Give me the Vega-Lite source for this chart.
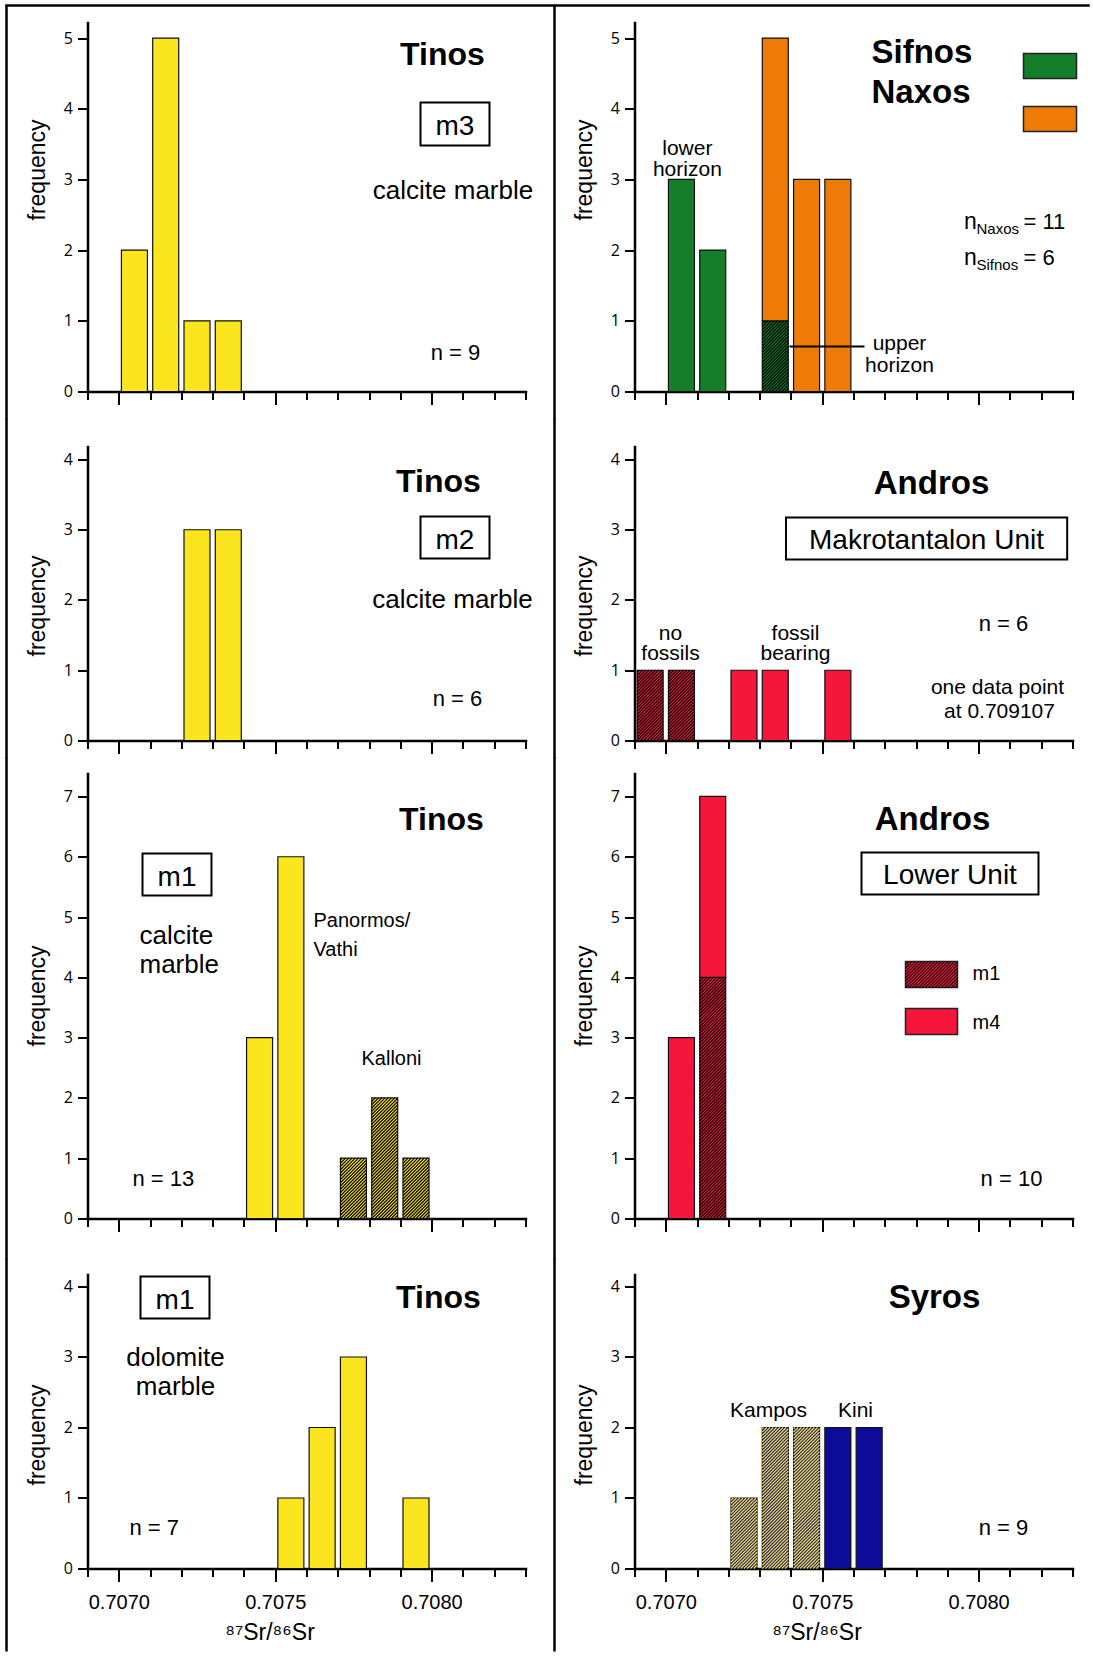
{
"$schema": "https://vega.github.io/schema/vega-lite/v6.json",
"padding": {"left": 4.5, "top": 3.5, "right": 0, "bottom": 0},
"autosize": {"type": "pad"},
"background": "white",
"config": {
  "view": {"stroke": null},
  "font": "Liberation Sans",
  "text": {"font": "Liberation Sans", "fill": "#000", "baseline": "alphabetic"},
  "axis": {"domainColor": "#000", "domainWidth": 2.5, "domainCap": "square", "tickColor": "#000", "tickWidth": 2, "grid": false, "labelColor": "#000", "titleColor": "#000", "titleFontWeight": "normal", "titleFont": "Liberation Sans", "zindex": 1, "labelFlush": false, "labelOverlap": false, "tickCount": 30},
  "axisY": {"labelFont": "Open Sans", "labelFontSize": 16, "tickSize": 10, "labelPadding": 5, "titleFontSize": 23, "titlePadding": 14, "format": "d"},
  "axisX": {"labelFont": "Liberation Sans", "labelFontSize": 20, "labelPadding": 11}
},
"spacing": -5,
"vconcat": [
 {"spacing": 109, "bounds": "flush", "hconcat": [
  {"width": 438, "height": 369,
   "data": {"values": [
     {"sr": 0.707, "sr_end": 0.7071, "n": 2, "grp": "Tinos"},
     {"sr": 0.7071, "sr_end": 0.7072, "n": 5, "grp": "Tinos"},
     {"sr": 0.7072, "sr_end": 0.7073, "n": 1, "grp": "Tinos"},
     {"sr": 0.7073, "sr_end": 0.7074, "n": 1, "grp": "Tinos"}]},
   "layer": [
    {"mark": {"type": "rect", "xOffset": 2.64, "x2Offset": -2.64, "stroke": "#111", "strokeWidth": 1.2},
     "encoding": {
      "x": {"field": "sr", "type": "quantitative", "scale": {"domain": [0.7069, 0.7083], "nice": false, "zero": false}, "axis": {"values": [0.7069,0.707,0.7071,0.7072,0.7073,0.7074,0.7075,0.7076,0.7077,0.7078,0.7079,0.708,0.7081,0.7082,0.7083], "tickCount": 30, "labels": false, "title": null, "tickSize": {"condition": {"test": "abs(datum.value*2000-round(datum.value*2000))<0.01", "value": 13}, "value": 8}}},
      "x2": {"field": "sr_end"},
      "y": {"field": "n", "type": "quantitative", "scale": {"domain": [0, 5.22], "nice": false}, "axis": {"values": [0,1,2,3,4,5], "title": "frequency", "titleY": 147}},
      "y2": {"datum": 0},
      "fill": {"field": "grp", "type": "nominal", "scale": {"domain": ["Tinos","Sifnos","Naxos","Andros","Syros"], "range": ["#FBE51F","#147E2B","#EE7B07","#F5163B","#0C0C98"]}, "legend": null}}},
    {"data": {"values": [{}]}, "mark": {"type": "rule", "stroke": "#000", "strokeWidth": 2.5}, "encoding": {"x": {"datum": 0.7066411, "type": "quantitative"}, "y": {"datum": 5.4605, "type": "quantitative"}, "y2": {"datum": -0.3961}}},
    {"data": {"values": [{}]}, "mark": {"type": "rule", "stroke": "#000", "strokeWidth": 2.5}, "encoding": {"x": {"datum": 0.7083927, "type": "quantitative"}, "y": {"datum": 5.4605, "type": "quantitative"}, "y2": {"datum": -0.3961}}},
    {"data": {"values": [{}]}, "mark": {"type": "rule", "stroke": "#000", "strokeWidth": 2.5, "strokeCap": "square"}, "encoding": {"x": {"datum": 0.7066411, "type": "quantitative"}, "x2": {"datum": 0.7100995}, "y": {"datum": 5.4605, "type": "quantitative"}}},
    {"data": {"values": [{}]}, "mark": {"type": "text", "text": "Tinos", "fontSize": 32, "fontWeight": "bold", "align": "center"}, "encoding": {"x": {"datum": 0.7080347, "type": "quantitative"}, "y": {"datum": 4.625, "type": "quantitative"}}},
    {"data": {"values": [{}]}, "mark": {"type": "rect", "fill": "#fff", "stroke": "#000", "strokeWidth": 2}, "encoding": {"x": {"datum": 0.7079644, "type": "quantitative"}, "x2": {"datum": 0.7081849}, "y": {"datum": 3.479, "type": "quantitative"}, "y2": {"datum": 4.088}}},
    {"data": {"values": [{}]}, "mark": {"type": "text", "text": "m3", "fontSize": 28, "align": "center"}, "encoding": {"x": {"datum": 0.7080746, "type": "quantitative"}, "y": {"datum": 3.635, "type": "quantitative"}}},
    {"data": {"values": [{}]}, "mark": {"type": "text", "text": "calcite marble", "fontSize": 26, "align": "center"}, "encoding": {"x": {"datum": 0.7080683, "type": "quantitative"}, "y": {"datum": 2.73, "type": "quantitative"}}},
    {"data": {"values": [{}]}, "mark": {"type": "text", "text": "n = 9", "fontSize": 22, "align": "center"}, "encoding": {"x": {"datum": 0.7080762, "type": "quantitative"}, "y": {"datum": 0.4526, "type": "quantitative"}}}
   ]},
  {"width": 438, "height": 369,
   "data": {"values": [
     {"sr": 0.707, "sr_end": 0.7071, "n": 3, "grp": "Sifnos", "horizon": "lower"},
     {"sr": 0.7071, "sr_end": 0.7072, "n": 2, "grp": "Sifnos", "horizon": "lower"},
     {"sr": 0.7073, "sr_end": 0.7074, "n": 1, "grp": "Sifnos", "horizon": "upper"},
     {"sr": 0.7073, "sr_end": 0.7074, "n": 4, "grp": "Naxos", "horizon": ""},
     {"sr": 0.7074, "sr_end": 0.7075, "n": 3, "grp": "Naxos", "horizon": ""},
     {"sr": 0.7075, "sr_end": 0.7076, "n": 3, "grp": "Naxos", "horizon": ""}]},
   "layer": [
    {"transform": [{"stack": "n", "groupby": ["sr"], "sort": [{"field": "grp", "order": "descending"}], "as": ["lo", "hi"]}],
     "mark": {"type": "rect", "xOffset": 2.64, "x2Offset": -2.64, "stroke": "#111", "strokeWidth": 1.2},
     "encoding": {
      "x": {"field": "sr", "type": "quantitative", "scale": {"domain": [0.7069, 0.7083], "nice": false, "zero": false}, "axis": {"values": [0.7069,0.707,0.7071,0.7072,0.7073,0.7074,0.7075,0.7076,0.7077,0.7078,0.7079,0.708,0.7081,0.7082,0.7083], "tickCount": 30, "labels": false, "title": null, "tickSize": {"condition": {"test": "abs(datum.value*2000-round(datum.value*2000))<0.01", "value": 13}, "value": 8}}},
      "x2": {"field": "sr_end"},
      "y": {"field": "hi", "type": "quantitative", "scale": {"domain": [0, 5.22], "nice": false}, "axis": {"values": [0,1,2,3,4,5], "title": "frequency", "titleY": 147}},
      "y2": {"field": "lo"},
      "fill": {"field": "grp", "type": "nominal", "scale": {"domain": ["Tinos","Sifnos","Naxos","Andros","Syros"], "range": ["#FBE51F","#147E2B","#EE7B07","#F5163B","#0C0C98"]}, "legend": null}}},
    {"transform": [{"filter": "datum.horizon == 'upper'"}],
     "mark": {"type": "point", "shape": "M22.75 0l3.25 -3.25M19.5 0l6.5 -6.5M16.25 0l9.75 -9.75M13 0l13 -13M9.75 0l16.25 -16.25M6.5 0l19.5 -19.5M3.25 0l22.75 -22.75M0 0l26 -26M0 -3.25l26 -26M0 -6.5l26 -26M0 -9.75l26 -26M0 -13l26 -26M0 -16.25l26 -26M0 -19.5l26 -26M0 -22.75l26 -26M0 -26l26 -26M0 -29.25l26 -26M0 -32.5l26 -26M0 -35.75l26 -26M0 -39l26 -26M0 -42.25l26 -26M0 -45.5l25 -25M0 -48.75l21.75 -21.75M0 -52l18.5 -18.5M0 -55.25l15.25 -15.25M0 -58.5l12 -12M0 -61.75l8.75 -8.75M0 -65l5.5 -5.5M0 -68.25l2.25 -2.25", "size": 4, "filled": false, "stroke": "#000", "strokeWidth": 1.1, "opacity": 1, "xOffset": 2.64},
     "encoding": {"x": {"field": "sr", "type": "quantitative"}, "y": {"datum": 0, "type": "quantitative"}}},
    {"data": {"values": [{}]}, "mark": {"type": "text", "text": "Sifnos", "fontSize": 33, "fontWeight": "bold", "align": "left"}, "encoding": {"x": {"datum": 0.7076575, "type": "quantitative"}, "y": {"datum": 4.653, "type": "quantitative"}}},
    {"data": {"values": [{}]}, "mark": {"type": "text", "text": "Naxos", "fontSize": 33, "fontWeight": "bold", "align": "left"}, "encoding": {"x": {"datum": 0.7076575, "type": "quantitative"}, "y": {"datum": 4.088, "type": "quantitative"}}},
    {"data": {"values": [{}]}, "mark": {"type": "rect", "fill": "#147E2B", "stroke": "#222", "strokeWidth": 1.5}, "encoding": {"x": {"datum": 0.7081434, "type": "quantitative"}, "x2": {"datum": 0.7083128}, "y": {"datum": 4.427, "type": "quantitative"}, "y2": {"datum": 4.781}}},
    {"data": {"values": [{}]}, "mark": {"type": "rect", "fill": "#EE7B07", "stroke": "#222", "strokeWidth": 1.5}, "encoding": {"x": {"datum": 0.7081434, "type": "quantitative"}, "x2": {"datum": 0.7083128}, "y": {"datum": 3.678, "type": "quantitative"}, "y2": {"datum": 4.031}}},
    {"data": {"values": [{}]}, "mark": {"type": "text", "text": "lower", "fontSize": 21, "align": "center"}, "encoding": {"x": {"datum": 0.707069, "type": "quantitative"}, "y": {"datum": 3.352, "type": "quantitative"}}},
    {"data": {"values": [{}]}, "mark": {"type": "text", "text": "horizon", "fontSize": 21, "align": "center"}, "encoding": {"x": {"datum": 0.707069, "type": "quantitative"}, "y": {"datum": 3.055, "type": "quantitative"}}},
    {"data": {"values": [{}]}, "mark": {"type": "text", "text": "n", "fontSize": 23, "align": "left"}, "encoding": {"x": {"datum": 0.7079532, "type": "quantitative"}, "y": {"datum": 2.3055, "type": "quantitative"}}},
    {"data": {"values": [{}]}, "mark": {"type": "text", "text": "Naxos", "fontSize": 15, "align": "left"}, "encoding": {"x": {"datum": 0.7079931, "type": "quantitative"}, "y": {"datum": 2.2348, "type": "quantitative"}}},
    {"data": {"values": [{}]}, "mark": {"type": "text", "text": "= 11", "fontSize": 22, "align": "left"}, "encoding": {"x": {"datum": 0.7081434, "type": "quantitative"}, "y": {"datum": 2.3055, "type": "quantitative"}}},
    {"data": {"values": [{}]}, "mark": {"type": "text", "text": "n", "fontSize": 23, "align": "left"}, "encoding": {"x": {"datum": 0.7079532, "type": "quantitative"}, "y": {"datum": 1.7963, "type": "quantitative"}}},
    {"data": {"values": [{}]}, "mark": {"type": "text", "text": "Sifnos", "fontSize": 15, "align": "left"}, "encoding": {"x": {"datum": 0.7079931, "type": "quantitative"}, "y": {"datum": 1.7256, "type": "quantitative"}}},
    {"data": {"values": [{}]}, "mark": {"type": "text", "text": "= 6", "fontSize": 22, "align": "left"}, "encoding": {"x": {"datum": 0.7081434, "type": "quantitative"}, "y": {"datum": 1.7963, "type": "quantitative"}}},
    {"data": {"values": [{}]}, "mark": {"type": "rule", "stroke": "#000", "strokeWidth": 2}, "encoding": {"x": {"datum": 0.7073954, "type": "quantitative"}, "x2": {"datum": 0.7076351}, "y": {"datum": 0.6365, "type": "quantitative"}}},
    {"data": {"values": [{}]}, "mark": {"type": "text", "text": "upper", "fontSize": 21, "align": "center"}, "encoding": {"x": {"datum": 0.707747, "type": "quantitative"}, "y": {"datum": 0.594, "type": "quantitative"}}},
    {"data": {"values": [{}]}, "mark": {"type": "text", "text": "horizon", "fontSize": 21, "align": "center"}, "encoding": {"x": {"datum": 0.707747, "type": "quantitative"}, "y": {"datum": 0.2829, "type": "quantitative"}}}
   ]}
 ]},
 {"spacing": 109, "bounds": "flush", "hconcat": [
  {"width": 438, "height": 294,
   "data": {"values": [
     {"sr": 0.7072, "sr_end": 0.7073, "n": 3, "grp": "Tinos"},
     {"sr": 0.7073, "sr_end": 0.7074, "n": 3, "grp": "Tinos"}]},
   "layer": [
    {"mark": {"type": "rect", "xOffset": 2.64, "x2Offset": -2.64, "stroke": "#111", "strokeWidth": 1.2},
     "encoding": {
      "x": {"field": "sr", "type": "quantitative", "scale": {"domain": [0.7069, 0.7083], "nice": false, "zero": false}, "axis": {"values": [0.7069,0.707,0.7071,0.7072,0.7073,0.7074,0.7075,0.7076,0.7077,0.7078,0.7079,0.708,0.7081,0.7082,0.7083], "tickCount": 30, "labels": false, "title": null, "tickSize": {"condition": {"test": "abs(datum.value*2000-round(datum.value*2000))<0.01", "value": 13}, "value": 8}}},
      "x2": {"field": "sr_end"},
      "y": {"field": "n", "type": "quantitative", "scale": {"domain": [0, 4.185], "nice": false}, "axis": {"values": [0,1,2,3,4], "title": "frequency", "titleY": 159}},
      "y2": {"datum": 0},
      "fill": {"field": "grp", "type": "nominal", "scale": {"domain": ["Tinos","Sifnos","Naxos","Andros","Syros"], "range": ["#FBE51F","#147E2B","#EE7B07","#F5163B","#0C0C98"]}, "legend": null}}},
    {"data": {"values": [{}]}, "mark": {"type": "rule", "stroke": "#000", "strokeWidth": 2.5}, "encoding": {"x": {"datum": 0.7066411, "type": "quantitative"}, "y": {"datum": 4.5836, "type": "quantitative"}, "y2": {"datum": -0.2562}}},
    {"data": {"values": [{}]}, "mark": {"type": "rule", "stroke": "#000", "strokeWidth": 2.5}, "encoding": {"x": {"datum": 0.7083927, "type": "quantitative"}, "y": {"datum": 4.5836, "type": "quantitative"}, "y2": {"datum": -0.2562}}},
    {"data": {"values": [{}]}, "mark": {"type": "text", "text": "Tinos", "fontSize": 32, "fontWeight": "bold", "align": "center"}, "encoding": {"x": {"datum": 0.7080219, "type": "quantitative"}, "y": {"datum": 3.544, "type": "quantitative"}}},
    {"data": {"values": [{}]}, "mark": {"type": "rect", "fill": "#fff", "stroke": "#000", "strokeWidth": 2}, "encoding": {"x": {"datum": 0.7079644, "type": "quantitative"}, "x2": {"datum": 0.7081849}, "y": {"datum": 2.591, "type": "quantitative"}, "y2": {"datum": 3.189}}},
    {"data": {"values": [{}]}, "mark": {"type": "text", "text": "m2", "fontSize": 28, "align": "center"}, "encoding": {"x": {"datum": 0.7080746, "type": "quantitative"}, "y": {"datum": 2.733, "type": "quantitative"}}},
    {"data": {"values": [{}]}, "mark": {"type": "text", "text": "calcite marble", "fontSize": 26, "align": "center"}, "encoding": {"x": {"datum": 0.7080667, "type": "quantitative"}, "y": {"datum": 1.879, "type": "quantitative"}}},
    {"data": {"values": [{}]}, "mark": {"type": "text", "text": "n = 6", "fontSize": 22, "align": "center"}, "encoding": {"x": {"datum": 0.7080826, "type": "quantitative"}, "y": {"datum": 0.484, "type": "quantitative"}}}
   ]},
  {"width": 438, "height": 294,
   "data": {"values": [
     {"sr": 0.7069, "sr_end": 0.707, "n": 1, "grp": "Andros", "fossils": "no"},
     {"sr": 0.707, "sr_end": 0.7071, "n": 1, "grp": "Andros", "fossils": "no"},
     {"sr": 0.7072, "sr_end": 0.7073, "n": 1, "grp": "Andros", "fossils": "yes"},
     {"sr": 0.7073, "sr_end": 0.7074, "n": 1, "grp": "Andros", "fossils": "yes"},
     {"sr": 0.7075, "sr_end": 0.7076, "n": 1, "grp": "Andros", "fossils": "yes"}]},
   "layer": [
    {"mark": {"type": "rect", "xOffset": 2.64, "x2Offset": -2.64, "stroke": "#111", "strokeWidth": 1.2},
     "encoding": {
      "x": {"field": "sr", "type": "quantitative", "scale": {"domain": [0.7069, 0.7083], "nice": false, "zero": false}, "axis": {"values": [0.7069,0.707,0.7071,0.7072,0.7073,0.7074,0.7075,0.7076,0.7077,0.7078,0.7079,0.708,0.7081,0.7082,0.7083], "tickCount": 30, "labels": false, "title": null, "tickSize": {"condition": {"test": "abs(datum.value*2000-round(datum.value*2000))<0.01", "value": 13}, "value": 8}}},
      "x2": {"field": "sr_end"},
      "y": {"field": "n", "type": "quantitative", "scale": {"domain": [0, 4.185], "nice": false}, "axis": {"values": [0,1,2,3,4], "title": "frequency", "titleY": 159}},
      "y2": {"datum": 0},
      "fill": {"field": "grp", "type": "nominal", "scale": {"domain": ["Tinos","Sifnos","Naxos","Andros","Syros"], "range": ["#FBE51F","#147E2B","#EE7B07","#F5163B","#0C0C98"]}, "legend": null}}},
    {"transform": [{"filter": "datum.fossils == 'no'"}],
     "mark": {"type": "point", "shape": "M22.75 0l3.25 -3.25M19.5 0l6.5 -6.5M16.25 0l9.75 -9.75M13 0l13 -13M9.75 0l16.25 -16.25M6.5 0l19.5 -19.5M3.25 0l22.75 -22.75M0 0l26 -26M0 -3.25l26 -26M0 -6.5l26 -26M0 -9.75l26 -26M0 -13l26 -26M0 -16.25l26 -26M0 -19.5l26 -26M0 -22.75l26 -26M0 -26l26 -26M0 -29.25l26 -26M0 -32.5l26 -26M0 -35.75l26 -26M0 -39l26 -26M0 -42.25l26 -26M0 -45.5l25 -25M0 -48.75l21.75 -21.75M0 -52l18.5 -18.5M0 -55.25l15.25 -15.25M0 -58.5l12 -12M0 -61.75l8.75 -8.75M0 -65l5.5 -5.5M0 -68.25l2.25 -2.25", "size": 4, "filled": false, "stroke": "#000", "strokeWidth": 1.1, "opacity": 1, "xOffset": 2.64},
     "encoding": {"x": {"field": "sr", "type": "quantitative"}, "y": {"datum": 0, "type": "quantitative"}}},
    {"data": {"values": [{}]}, "mark": {"type": "text", "text": "Andros", "fontSize": 33, "fontWeight": "bold", "align": "center"}, "encoding": {"x": {"datum": 0.7078493, "type": "quantitative"}, "y": {"datum": 3.502, "type": "quantitative"}}},
    {"data": {"values": [{}]}, "mark": {"type": "rect", "fill": "#fff", "stroke": "#000", "strokeWidth": 2}, "encoding": {"x": {"datum": 0.7073842, "type": "quantitative"}, "x2": {"datum": 0.708283}, "y": {"datum": 2.577, "type": "quantitative"}, "y2": {"datum": 3.174}}},
    {"data": {"values": [{}]}, "mark": {"type": "text", "text": "Makrotantalon Unit", "fontSize": 28, "align": "center"}, "encoding": {"x": {"datum": 0.7078333, "type": "quantitative"}, "y": {"datum": 2.719, "type": "quantitative"}}},
    {"data": {"values": [{}]}, "mark": {"type": "text", "text": "n = 6", "fontSize": 22, "align": "center"}, "encoding": {"x": {"datum": 0.7080794, "type": "quantitative"}, "y": {"datum": 1.552, "type": "quantitative"}}},
    {"data": {"values": [{}]}, "mark": {"type": "text", "text": "no", "fontSize": 21, "align": "center"}, "encoding": {"x": {"datum": 0.7070151, "type": "quantitative"}, "y": {"datum": 1.4235, "type": "quantitative"}}},
    {"data": {"values": [{}]}, "mark": {"type": "text", "text": "fossils", "fontSize": 21, "align": "center"}, "encoding": {"x": {"datum": 0.7070151, "type": "quantitative"}, "y": {"datum": 1.14, "type": "quantitative"}}},
    {"data": {"values": [{}]}, "mark": {"type": "text", "text": "fossil", "fontSize": 21, "align": "center"}, "encoding": {"x": {"datum": 0.7074146, "type": "quantitative"}, "y": {"datum": 1.4235, "type": "quantitative"}}},
    {"data": {"values": [{}]}, "mark": {"type": "text", "text": "bearing", "fontSize": 21, "align": "center"}, "encoding": {"x": {"datum": 0.7074146, "type": "quantitative"}, "y": {"datum": 1.14, "type": "quantitative"}}},
    {"data": {"values": [{}]}, "mark": {"type": "text", "text": "one data point", "fontSize": 21, "align": "center"}, "encoding": {"x": {"datum": 0.7080603, "type": "quantitative"}, "y": {"datum": 0.669, "type": "quantitative"}}},
    {"data": {"values": [{}]}, "mark": {"type": "text", "text": "at 0.709107", "fontSize": 21, "align": "center"}, "encoding": {"x": {"datum": 0.7080667, "type": "quantitative"}, "y": {"datum": 0.327, "type": "quantitative"}}}
   ]}
 ]},
 {"spacing": 109, "bounds": "flush", "hconcat": [
  {"width": 438, "height": 445,
   "data": {"values": [
     {"sr": 0.7074, "sr_end": 0.7075, "n": 3, "grp": "Tinos", "locality": "Panormos/Vathi"},
     {"sr": 0.7075, "sr_end": 0.7076, "n": 6, "grp": "Tinos", "locality": "Panormos/Vathi"},
     {"sr": 0.7077, "sr_end": 0.7078, "n": 1, "grp": "Tinos", "locality": "Kalloni"},
     {"sr": 0.7078, "sr_end": 0.7079, "n": 2, "grp": "Tinos", "locality": "Kalloni"},
     {"sr": 0.7079, "sr_end": 0.708, "n": 1, "grp": "Tinos", "locality": "Kalloni"}]},
   "layer": [
    {"mark": {"type": "rect", "xOffset": 2.64, "x2Offset": -2.64, "stroke": "#111", "strokeWidth": 1.2},
     "encoding": {
      "x": {"field": "sr", "type": "quantitative", "scale": {"domain": [0.7069, 0.7083], "nice": false, "zero": false}, "axis": {"values": [0.7069,0.707,0.7071,0.7072,0.7073,0.7074,0.7075,0.7076,0.7077,0.7078,0.7079,0.708,0.7081,0.7082,0.7083], "tickCount": 30, "labels": false, "title": null, "tickSize": {"condition": {"test": "abs(datum.value*2000-round(datum.value*2000))<0.01", "value": 13}, "value": 8}}},
      "x2": {"field": "sr_end"},
      "y": {"field": "n", "type": "quantitative", "scale": {"domain": [0, 7.381], "nice": false}, "axis": {"values": [0,1,2,3,4,5,6,7], "title": "frequency", "titleY": 222}},
      "y2": {"datum": 0},
      "fill": {"field": "grp", "type": "nominal", "scale": {"domain": ["Tinos","Sifnos","Naxos","Andros","Syros"], "range": ["#FBE51F","#147E2B","#EE7B07","#F5163B","#0C0C98"]}, "legend": null}}},
    {"transform": [{"filter": "datum.locality == 'Kalloni' && datum.n == 1"}],
     "mark": {"type": "point", "shape": "M22.75 0l3.25 -3.25M19.5 0l6.5 -6.5M16.25 0l9.75 -9.75M13 0l13 -13M9.75 0l16.25 -16.25M6.5 0l19.5 -19.5M3.25 0l22.75 -22.75M0 0l26 -26M0 -3.25l26 -26M0 -6.5l26 -26M0 -9.75l26 -26M0 -13l26 -26M0 -16.25l26 -26M0 -19.5l26 -26M0 -22.75l26 -26M0 -26l26 -26M0 -29.25l26 -26M0 -32.5l26 -26M0 -35.75l24.55 -24.55M0 -39l21.3 -21.3M0 -42.25l18.05 -18.05M0 -45.5l14.8 -14.8M0 -48.75l11.55 -11.55M0 -52l8.3 -8.3M0 -55.25l5.05 -5.05M0 -58.5l1.8 -1.8", "size": 4, "filled": false, "stroke": "#000", "strokeWidth": 1.1, "opacity": 1, "xOffset": 2.64},
     "encoding": {"x": {"field": "sr", "type": "quantitative"}, "y": {"datum": 0, "type": "quantitative"}}},
    {"transform": [{"filter": "datum.locality == 'Kalloni' && datum.n == 2"}],
     "mark": {"type": "point", "shape": "M22.75 0l3.25 -3.25M19.5 0l6.5 -6.5M16.25 0l9.75 -9.75M13 0l13 -13M9.75 0l16.25 -16.25M6.5 0l19.5 -19.5M3.25 0l22.75 -22.75M0 0l26 -26M0 -3.25l26 -26M0 -6.5l26 -26M0 -9.75l26 -26M0 -13l26 -26M0 -16.25l26 -26M0 -19.5l26 -26M0 -22.75l26 -26M0 -26l26 -26M0 -29.25l26 -26M0 -32.5l26 -26M0 -35.75l26 -26M0 -39l26 -26M0 -42.25l26 -26M0 -45.5l26 -26M0 -48.75l26 -26M0 -52l26 -26M0 -55.25l26 -26M0 -58.5l26 -26M0 -61.75l26 -26M0 -65l26 -26M0 -68.25l26 -26M0 -71.5l26 -26M0 -74.75l26 -26M0 -78l26 -26M0 -81.25l26 -26M0 -84.5l26 -26M0 -87.75l26 -26M0 -91l26 -26M0 -94.25l26 -26M0 -97.5l23.1 -23.1M0 -100.75l19.85 -19.85M0 -104l16.6 -16.6M0 -107.25l13.35 -13.35M0 -110.5l10.1 -10.1M0 -113.75l6.85 -6.85M0 -117l3.6 -3.6", "size": 4, "filled": false, "stroke": "#000", "strokeWidth": 1.1, "opacity": 1, "xOffset": 2.64},
     "encoding": {"x": {"field": "sr", "type": "quantitative"}, "y": {"datum": 0, "type": "quantitative"}}},
    {"data": {"values": [{}]}, "mark": {"type": "rule", "stroke": "#000", "strokeWidth": 2.5}, "encoding": {"x": {"datum": 0.7066411, "type": "quantitative"}, "y": {"datum": 7.6464, "type": "quantitative"}, "y2": {"datum": -0.68}}},
    {"data": {"values": [{}]}, "mark": {"type": "rule", "stroke": "#000", "strokeWidth": 2.5}, "encoding": {"x": {"datum": 0.7083927, "type": "quantitative"}, "y": {"datum": 7.6464, "type": "quantitative"}, "y2": {"datum": -0.68}}},
    {"data": {"values": [{}]}, "mark": {"type": "text", "text": "Tinos", "fontSize": 32, "fontWeight": "bold", "align": "center"}, "encoding": {"x": {"datum": 0.7080315, "type": "quantitative"}, "y": {"datum": 6.436, "type": "quantitative"}}},
    {"data": {"values": [{}]}, "mark": {"type": "rect", "fill": "#fff", "stroke": "#000", "strokeWidth": 2}, "encoding": {"x": {"datum": 0.7070758, "type": "quantitative"}, "x2": {"datum": 0.7072963}, "y": {"datum": 5.357, "type": "quantitative"}, "y2": {"datum": 6.054}}},
    {"data": {"values": [{}]}, "mark": {"type": "text", "text": "m1", "fontSize": 28, "align": "center"}, "encoding": {"x": {"datum": 0.7071861, "type": "quantitative"}, "y": {"datum": 5.523, "type": "quantitative"}}},
    {"data": {"values": [{}]}, "mark": {"type": "text", "text": "calcite", "fontSize": 26, "align": "left"}, "encoding": {"x": {"datum": 0.7070662, "type": "quantitative"}, "y": {"datum": 4.545, "type": "quantitative"}}},
    {"data": {"values": [{}]}, "mark": {"type": "text", "text": "marble", "fontSize": 26, "align": "left"}, "encoding": {"x": {"datum": 0.7070662, "type": "quantitative"}, "y": {"datum": 4.08, "type": "quantitative"}}},
    {"data": {"values": [{}]}, "mark": {"type": "text", "text": "Panormos/", "fontSize": 20, "align": "left"}, "encoding": {"x": {"datum": 0.7076224, "type": "quantitative"}, "y": {"datum": 4.827, "type": "quantitative"}}},
    {"data": {"values": [{}]}, "mark": {"type": "text", "text": "Vathi", "fontSize": 20, "align": "left"}, "encoding": {"x": {"datum": 0.7076224, "type": "quantitative"}, "y": {"datum": 4.346, "type": "quantitative"}}},
    {"data": {"values": [{}]}, "mark": {"type": "text", "text": "Kalloni", "fontSize": 20, "align": "center"}, "encoding": {"x": {"datum": 0.7078717, "type": "quantitative"}, "y": {"datum": 2.538, "type": "quantitative"}}},
    {"data": {"values": [{}]}, "mark": {"type": "text", "text": "n = 13", "fontSize": 22, "align": "left"}, "encoding": {"x": {"datum": 0.7070438, "type": "quantitative"}, "y": {"datum": 0.547, "type": "quantitative"}}}
   ]},
  {"width": 438, "height": 445,
   "data": {"values": [
     {"sr": 0.707, "sr_end": 0.7071, "n": 3, "grp": "Andros", "unit": "m4"},
     {"sr": 0.7071, "sr_end": 0.7072, "n": 4, "grp": "Andros", "unit": "m1"},
     {"sr": 0.7071, "sr_end": 0.7072, "n": 3, "grp": "Andros", "unit": "m4"}]},
   "layer": [
    {"transform": [{"stack": "n", "groupby": ["sr"], "sort": [{"field": "unit", "order": "ascending"}], "as": ["lo", "hi"]}],
     "mark": {"type": "rect", "xOffset": 2.64, "x2Offset": -2.64, "stroke": "#111", "strokeWidth": 1.2},
     "encoding": {
      "x": {"field": "sr", "type": "quantitative", "scale": {"domain": [0.7069, 0.7083], "nice": false, "zero": false}, "axis": {"values": [0.7069,0.707,0.7071,0.7072,0.7073,0.7074,0.7075,0.7076,0.7077,0.7078,0.7079,0.708,0.7081,0.7082,0.7083], "tickCount": 30, "labels": false, "title": null, "tickSize": {"condition": {"test": "abs(datum.value*2000-round(datum.value*2000))<0.01", "value": 13}, "value": 8}}},
      "x2": {"field": "sr_end"},
      "y": {"field": "hi", "type": "quantitative", "scale": {"domain": [0, 7.381], "nice": false}, "axis": {"values": [0,1,2,3,4,5,6,7], "title": "frequency", "titleY": 222}},
      "y2": {"field": "lo"},
      "fill": {"field": "grp", "type": "nominal", "scale": {"domain": ["Tinos","Sifnos","Naxos","Andros","Syros"], "range": ["#FBE51F","#147E2B","#EE7B07","#F5163B","#0C0C98"]}, "legend": null}}},
    {"transform": [{"filter": "datum.unit == 'm1'"}],
     "mark": {"type": "point", "shape": "M22.75 0l3.25 -3.25M19.5 0l6.5 -6.5M16.25 0l9.75 -9.75M13 0l13 -13M9.75 0l16.25 -16.25M6.5 0l19.5 -19.5M3.25 0l22.75 -22.75M0 0l26 -26M0 -3.25l26 -26M0 -6.5l26 -26M0 -9.75l26 -26M0 -13l26 -26M0 -16.25l26 -26M0 -19.5l26 -26M0 -22.75l26 -26M0 -26l26 -26M0 -29.25l26 -26M0 -32.5l26 -26M0 -35.75l26 -26M0 -39l26 -26M0 -42.25l26 -26M0 -45.5l26 -26M0 -48.75l26 -26M0 -52l26 -26M0 -55.25l26 -26M0 -58.5l26 -26M0 -61.75l26 -26M0 -65l26 -26M0 -68.25l26 -26M0 -71.5l26 -26M0 -74.75l26 -26M0 -78l26 -26M0 -81.25l26 -26M0 -84.5l26 -26M0 -87.75l26 -26M0 -91l26 -26M0 -94.25l26 -26M0 -97.5l26 -26M0 -100.75l26 -26M0 -104l26 -26M0 -107.25l26 -26M0 -110.5l26 -26M0 -113.75l26 -26M0 -117l26 -26M0 -120.25l26 -26M0 -123.5l26 -26M0 -126.75l26 -26M0 -130l26 -26M0 -133.25l26 -26M0 -136.5l26 -26M0 -139.75l26 -26M0 -143l26 -26M0 -146.25l26 -26M0 -149.5l26 -26M0 -152.75l26 -26M0 -156l26 -26M0 -159.25l26 -26M0 -162.5l26 -26M0 -165.75l26 -26M0 -169l26 -26M0 -172.25l26 -26M0 -175.5l26 -26M0 -178.75l26 -26M0 -182l26 -26M0 -185.25l26 -26M0 -188.5l26 -26M0 -191.75l26 -26M0 -195l26 -26M0 -198.25l26 -26M0 -201.5l26 -26M0 -204.75l26 -26M0 -208l26 -26M0 -211.25l26 -26M0 -214.5l26 -26M0 -217.75l23.45 -23.45M0 -221l20.2 -20.2M0 -224.25l16.95 -16.95M0 -227.5l13.7 -13.7M0 -230.75l10.45 -10.45M0 -234l7.2 -7.2M0 -237.25l3.95 -3.95", "size": 4, "filled": false, "stroke": "#000", "strokeWidth": 1.1, "opacity": 1, "xOffset": 2.64},
     "encoding": {"x": {"field": "sr", "type": "quantitative"}, "y": {"datum": 0, "type": "quantitative"}}},
    {"data": {"values": [{}]}, "mark": {"type": "text", "text": "Andros", "fontSize": 33, "fontWeight": "bold", "align": "center"}, "encoding": {"x": {"datum": 0.7078525, "type": "quantitative"}, "y": {"datum": 6.436, "type": "quantitative"}}},
    {"data": {"values": [{}]}, "mark": {"type": "rect", "fill": "#fff", "stroke": "#000", "strokeWidth": 2}, "encoding": {"x": {"datum": 0.7076256, "type": "quantitative"}, "x2": {"datum": 0.7081913}, "y": {"datum": 5.374, "type": "quantitative"}, "y2": {"datum": 6.071}}},
    {"data": {"values": [{}]}, "mark": {"type": "text", "text": "Lower Unit", "fontSize": 28, "align": "center"}, "encoding": {"x": {"datum": 0.7079084, "type": "quantitative"}, "y": {"datum": 5.54, "type": "quantitative"}}},
    {"data": {"values": [{}]}, "mark": {"type": "rect", "fill": "#F5163B", "stroke": "#222", "strokeWidth": 1.5}, "encoding": {"x": {"datum": 0.7077662, "type": "quantitative"}, "x2": {"datum": 0.7079324}, "y": {"datum": 3.831, "type": "quantitative"}, "y2": {"datum": 4.262}}},
    {"data": {"values": [{}]}, "mark": {"type": "point", "shape": "M48.75 0l3.25 -3.25M45.5 0l6.5 -6.5M42.25 0l9.75 -9.75M39 0l13 -13M35.75 0l16.25 -16.25M32.5 0l19.5 -19.5M29.25 0l22.75 -22.75M26 0l26 -26M22.75 0l26 -26M19.5 0l26 -26M16.25 0l26 -26M13 0l26 -26M9.75 0l26 -26M6.5 0l26 -26M3.25 0l26 -26M0 0l26 -26M0 -3.25l22.75 -22.75M0 -6.5l19.5 -19.5M0 -9.75l16.25 -16.25M0 -13l13 -13M0 -16.25l9.75 -9.75M0 -19.5l6.5 -6.5M0 -22.75l3.25 -3.25", "size": 4, "filled": false, "stroke": "#000", "strokeWidth": 1.1, "opacity": 1}, "encoding": {"x": {"datum": 0.7077662, "type": "quantitative"}, "y": {"datum": 3.831, "type": "quantitative"}}},
    {"data": {"values": [{}]}, "mark": {"type": "text", "text": "m1", "fontSize": 20, "align": "left"}, "encoding": {"x": {"datum": 0.7079804, "type": "quantitative"}, "y": {"datum": 3.948, "type": "quantitative"}}},
    {"data": {"values": [{}]}, "mark": {"type": "rect", "fill": "#F5163B", "stroke": "#222", "strokeWidth": 1.5}, "encoding": {"x": {"datum": 0.7077662, "type": "quantitative"}, "x2": {"datum": 0.7079324}, "y": {"datum": 3.052, "type": "quantitative"}, "y2": {"datum": 3.483}}},
    {"data": {"values": [{}]}, "mark": {"type": "text", "text": "m4", "fontSize": 20, "align": "left"}, "encoding": {"x": {"datum": 0.7079804, "type": "quantitative"}, "y": {"datum": 3.135, "type": "quantitative"}}},
    {"data": {"values": [{}]}, "mark": {"type": "text", "text": "n = 10", "fontSize": 22, "align": "center"}, "encoding": {"x": {"datum": 0.708105, "type": "quantitative"}, "y": {"datum": 0.531, "type": "quantitative"}}}
   ]}
 ]},
 {"spacing": 109, "bounds": "flush", "hconcat": [
  {"width": 438, "height": 294,
   "data": {"values": [
     {"sr": 0.7075, "sr_end": 0.7076, "n": 1, "grp": "Tinos"},
     {"sr": 0.7076, "sr_end": 0.7077, "n": 2, "grp": "Tinos"},
     {"sr": 0.7077, "sr_end": 0.7078, "n": 3, "grp": "Tinos"},
     {"sr": 0.7079, "sr_end": 0.708, "n": 1, "grp": "Tinos"}]},
   "layer": [
    {"mark": {"type": "rect", "xOffset": 2.64, "x2Offset": -2.64, "stroke": "#111", "strokeWidth": 1.2},
     "encoding": {
      "x": {"field": "sr", "type": "quantitative", "scale": {"domain": [0.7069, 0.7083], "nice": false, "zero": false}, "axis": {"values": [0.7069,0.707,0.7071,0.7072,0.7073,0.7074,0.7075,0.7076,0.7077,0.7078,0.7079,0.708,0.7081,0.7082,0.7083], "tickCount": 30, "tickSize": {"condition": {"test": "abs(datum.value*2000-round(datum.value*2000))<0.01", "value": 13}, "value": 8}, "labelExpr": "abs(datum.value*2000-round(datum.value*2000))<0.01 ? format(datum.value, '.4f') : ''", "title": "⁸⁷Sr/⁸⁶Sr", "titleX": 182, "titleY": 71, "titleBaseline": "alphabetic", "titleFontSize": 23}},
      "x2": {"field": "sr_end"},
      "y": {"field": "n", "type": "quantitative", "scale": {"domain": [0, 4.17], "nice": false}, "axis": {"values": [0,1,2,3,4], "title": "frequency", "titleY": 160}},
      "y2": {"datum": 0},
      "fill": {"field": "grp", "type": "nominal", "scale": {"domain": ["Tinos","Sifnos","Naxos","Andros","Syros"], "range": ["#FBE51F","#147E2B","#EE7B07","#F5163B","#0C0C98"]}, "legend": null}}},
    {"data": {"values": [{}]}, "mark": {"type": "rule", "stroke": "#000", "strokeWidth": 2.5}, "encoding": {"x": {"datum": 0.7066411, "type": "quantitative"}, "y": {"datum": 4.3972, "type": "quantitative"}, "y2": {"datum": -1.1773}}},
    {"data": {"values": [{}]}, "mark": {"type": "rule", "stroke": "#000", "strokeWidth": 2.5}, "encoding": {"x": {"datum": 0.7083927, "type": "quantitative"}, "y": {"datum": 4.3972, "type": "quantitative"}, "y2": {"datum": -1.1773}}},
    {"data": {"values": [{}]}, "mark": {"type": "rect", "fill": "#fff", "stroke": "#000", "strokeWidth": 2}, "encoding": {"x": {"datum": 0.7070694, "type": "quantitative"}, "x2": {"datum": 0.7072899}, "y": {"datum": 3.546, "type": "quantitative"}, "y2": {"datum": 4.142}}},
    {"data": {"values": [{}]}, "mark": {"type": "text", "text": "m1", "fontSize": 28, "align": "center"}, "encoding": {"x": {"datum": 0.7071797, "type": "quantitative"}, "y": {"datum": 3.674, "type": "quantitative"}}},
    {"data": {"values": [{}]}, "mark": {"type": "text", "text": "Tinos", "fontSize": 32, "fontWeight": "bold", "align": "center"}, "encoding": {"x": {"datum": 0.7080219, "type": "quantitative"}, "y": {"datum": 3.688, "type": "quantitative"}}},
    {"data": {"values": [{}]}, "mark": {"type": "text", "text": "dolomite", "fontSize": 26, "align": "center"}, "encoding": {"x": {"datum": 0.7071813, "type": "quantitative"}, "y": {"datum": 2.879, "type": "quantitative"}}},
    {"data": {"values": [{}]}, "mark": {"type": "text", "text": "marble", "fontSize": 26, "align": "center"}, "encoding": {"x": {"datum": 0.7071813, "type": "quantitative"}, "y": {"datum": 2.454, "type": "quantitative"}}},
    {"data": {"values": [{}]}, "mark": {"type": "text", "text": "n = 7", "fontSize": 22, "align": "left"}, "encoding": {"x": {"datum": 0.7070342, "type": "quantitative"}, "y": {"datum": 0.482, "type": "quantitative"}}}
   ]},
  {"width": 438, "height": 294,
   "data": {"values": [
     {"sr": 0.7072, "sr_end": 0.7073, "n": 1, "grp": "Syros", "locality": "Kampos"},
     {"sr": 0.7073, "sr_end": 0.7074, "n": 2, "grp": "Syros", "locality": "Kampos"},
     {"sr": 0.7074, "sr_end": 0.7075, "n": 2, "grp": "Syros", "locality": "Kampos"},
     {"sr": 0.7075, "sr_end": 0.7076, "n": 2, "grp": "Syros", "locality": "Kini"},
     {"sr": 0.7076, "sr_end": 0.7077, "n": 2, "grp": "Syros", "locality": "Kini"}]},
   "layer": [
    {"mark": {"type": "rect", "xOffset": 2.64, "x2Offset": -2.64, "stroke": "#111", "strokeWidth": 1.2},
     "encoding": {
      "x": {"field": "sr", "type": "quantitative", "scale": {"domain": [0.7069, 0.7083], "nice": false, "zero": false}, "axis": {"values": [0.7069,0.707,0.7071,0.7072,0.7073,0.7074,0.7075,0.7076,0.7077,0.7078,0.7079,0.708,0.7081,0.7082,0.7083], "tickCount": 30, "tickSize": {"condition": {"test": "abs(datum.value*2000-round(datum.value*2000))<0.01", "value": 13}, "value": 8}, "labelExpr": "abs(datum.value*2000-round(datum.value*2000))<0.01 ? format(datum.value, '.4f') : ''", "title": "⁸⁷Sr/⁸⁶Sr", "titleX": 182, "titleY": 71, "titleBaseline": "alphabetic", "titleFontSize": 23}},
      "x2": {"field": "sr_end"},
      "y": {"field": "n", "type": "quantitative", "scale": {"domain": [0, 4.17], "nice": false}, "axis": {"values": [0,1,2,3,4], "title": "frequency", "titleY": 160}},
      "y2": {"datum": 0},
      "fill": {"field": "grp", "type": "nominal", "scale": {"domain": ["Tinos","Sifnos","Naxos","Andros","Syros"], "range": ["#FBE51F","#147E2B","#EE7B07","#F5163B","#0C0C98"]}, "legend": null}}},
    {"transform": [{"filter": "datum.locality == 'Kampos' && datum.n == 1"}],
     "mark": {"type": "point", "shape": "M22.75 0l3.25 -3.25M19.5 0l6.5 -6.5M16.25 0l9.75 -9.75M13 0l13 -13M9.75 0l16.25 -16.25M6.5 0l19.5 -19.5M3.25 0l22.75 -22.75M0 0l26 -26M0 -3.25l26 -26M0 -6.5l26 -26M0 -9.75l26 -26M0 -13l26 -26M0 -16.25l26 -26M0 -19.5l26 -26M0 -22.75l26 -26M0 -26l26 -26M0 -29.25l26 -26M0 -32.5l26 -26M0 -35.75l26 -26M0 -39l26 -26M0 -42.25l26 -26M0 -45.5l25 -25M0 -48.75l21.75 -21.75M0 -52l18.5 -18.5M0 -55.25l15.25 -15.25M0 -58.5l12 -12M0 -61.75l8.75 -8.75M0 -65l5.5 -5.5M0 -68.25l2.25 -2.25", "size": 4, "filled": false, "stroke": "#F2DE30", "strokeWidth": 1.25, "opacity": 1, "xOffset": 2.64},
     "encoding": {"x": {"field": "sr", "type": "quantitative"}, "y": {"datum": 0, "type": "quantitative"}}},
    {"transform": [{"filter": "datum.locality == 'Kampos' && datum.n == 2"}],
     "mark": {"type": "point", "shape": "M22.75 0l3.25 -3.25M19.5 0l6.5 -6.5M16.25 0l9.75 -9.75M13 0l13 -13M9.75 0l16.25 -16.25M6.5 0l19.5 -19.5M3.25 0l22.75 -22.75M0 0l26 -26M0 -3.25l26 -26M0 -6.5l26 -26M0 -9.75l26 -26M0 -13l26 -26M0 -16.25l26 -26M0 -19.5l26 -26M0 -22.75l26 -26M0 -26l26 -26M0 -29.25l26 -26M0 -32.5l26 -26M0 -35.75l26 -26M0 -39l26 -26M0 -42.25l26 -26M0 -45.5l26 -26M0 -48.75l26 -26M0 -52l26 -26M0 -55.25l26 -26M0 -58.5l26 -26M0 -61.75l26 -26M0 -65l26 -26M0 -68.25l26 -26M0 -71.5l26 -26M0 -74.75l26 -26M0 -78l26 -26M0 -81.25l26 -26M0 -84.5l26 -26M0 -87.75l26 -26M0 -91l26 -26M0 -94.25l26 -26M0 -97.5l26 -26M0 -100.75l26 -26M0 -104l26 -26M0 -107.25l26 -26M0 -110.5l26 -26M0 -113.75l26 -26M0 -117l24 -24M0 -120.25l20.75 -20.75M0 -123.5l17.5 -17.5M0 -126.75l14.25 -14.25M0 -130l11 -11M0 -133.25l7.75 -7.75M0 -136.5l4.5 -4.5M0 -139.75l1.25 -1.25", "size": 4, "filled": false, "stroke": "#F2DE30", "strokeWidth": 1.25, "opacity": 1, "xOffset": 2.64},
     "encoding": {"x": {"field": "sr", "type": "quantitative"}, "y": {"datum": 0, "type": "quantitative"}}},
    {"data": {"values": [{}]}, "mark": {"type": "text", "text": "Syros", "fontSize": 33, "fontWeight": "bold", "align": "center"}, "encoding": {"x": {"datum": 0.7078589, "type": "quantitative"}, "y": {"datum": 3.688, "type": "quantitative"}}},
    {"data": {"values": [{}]}, "mark": {"type": "text", "text": "Kampos", "fontSize": 21, "align": "center"}, "encoding": {"x": {"datum": 0.7073283, "type": "quantitative"}, "y": {"datum": 2.145, "type": "quantitative"}}},
    {"data": {"values": [{}]}, "mark": {"type": "text", "text": "Kini", "fontSize": 21, "align": "center"}, "encoding": {"x": {"datum": 0.7076064, "type": "quantitative"}, "y": {"datum": 2.145, "type": "quantitative"}}},
    {"data": {"values": [{}]}, "mark": {"type": "text", "text": "n = 9", "fontSize": 22, "align": "center"}, "encoding": {"x": {"datum": 0.7080794, "type": "quantitative"}, "y": {"datum": 0.482, "type": "quantitative"}}}
   ]}
 ]}
]
}
